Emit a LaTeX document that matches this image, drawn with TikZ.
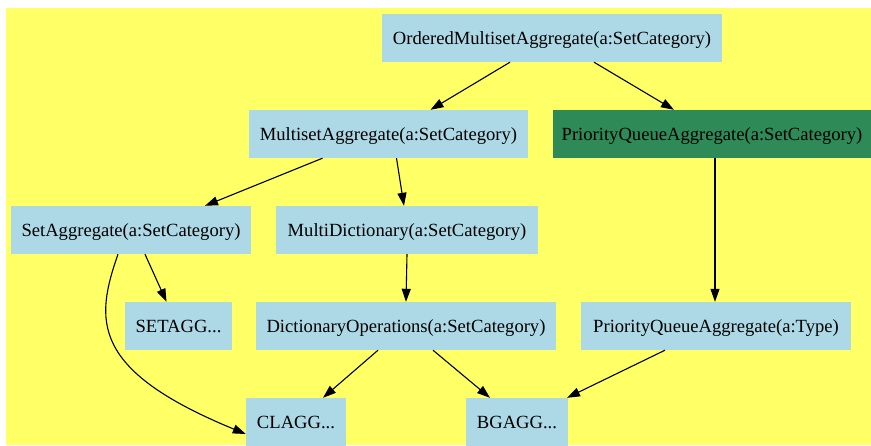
\documentclass[tikz,border=0pt]{standalone}
\usepackage{fontspec}
\setmainfont{Liberation Serif}
\usetikzlibrary{arrows.meta}
\definecolor{bgyellow}{HTML}{FFFF66}
\definecolor{nodeblue}{HTML}{ADD8E6}
\definecolor{nodegreen}{HTML}{2E8B57}
\begin{document}
\begin{tikzpicture}[x=1pt,y=-1pt,
  box/.style={fill=nodeblue, draw=none, inner sep=0pt, minimum height=48pt, text height=14pt, text depth=2pt, font=\fontsize{18.6}{20}\selectfont, text=black},
  gbox/.style={box, fill=nodegreen},
  edge/.style={draw=black, line width=1.1pt, -{Triangle[length=13pt,width=9pt]}}]
\useasboundingbox (0,0) rectangle (871,445);
\fill[bgyellow] (6,8) rectangle (871,445);
\node[box, minimum width=340pt] (oma) at (552,38) {OrderedMultisetAggregate(a:SetCategory)};
\node[box, minimum width=279pt] (ma) at (388.5,134) {MultisetAggregate(a:SetCategory)};
\node[gbox, minimum width=318pt] (pqa) at (712,134) {PriorityQueueAggregate(a:SetCategory)};
\node[box, minimum width=240pt] (sa) at (131,230) {SetAggregate(a:SetCategory)};
\node[box, minimum width=262pt] (md) at (407,230) {MultiDictionary(a:SetCategory)};
\node[box, minimum width=107pt] (setagg) at (178.5,326) {SETAGG...};
\node[box, minimum width=300pt] (dops) at (406,326) {DictionaryOperations(a:SetCategory)};
\node[box, minimum width=270pt] (pqat) at (716,326) {PriorityQueueAggregate(a:Type)};
\node[box, minimum width=100pt] (clagg) at (296,422) {CLAGG...};
\node[box, minimum width=102pt] (bgagg) at (517,422) {BGAGG...};
\draw[edge] ([xshift=-42pt]oma.south) -- ([xshift=42pt]ma.north);
\draw[edge] ([xshift=42pt]oma.south) -- ([xshift=-38pt]pqa.north);
\draw[edge] ([xshift=-66pt]ma.south) -- ([xshift=74pt]sa.north);
\draw[edge] ([xshift=8pt]ma.south) -- ([xshift=-3pt]md.north);
\draw[edge] ([xshift=14pt]sa.south) -- ([xshift=-12pt]setagg.north);
\draw[edge] ([xshift=-13pt]sa.south) .. controls (95,320) and (90,370) .. ([yshift=-12pt]clagg.west);
\draw[edge] (md.south) -- (dops.north);
\draw[edge] ([xshift=3pt]pqa.south) -- ([xshift=-1pt]pqat.north);
\draw[edge] ([xshift=-28pt]dops.south) -- ([xshift=27pt]clagg.north);
\draw[edge] ([xshift=27pt]dops.south) -- ([xshift=-27pt]bgagg.north);
\draw[edge] ([xshift=-51pt]pqat.south) -- ([xshift=50pt]bgagg.north);
\end{tikzpicture}
\end{document}
